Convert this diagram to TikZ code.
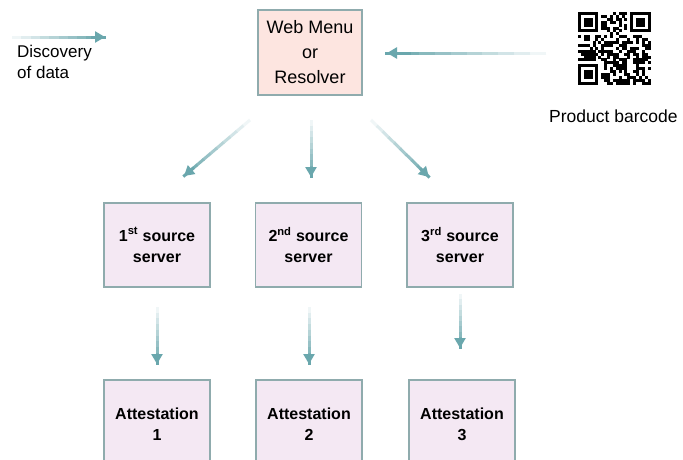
\documentclass[tikz,border=0pt]{standalone}
\usepackage{fontspec}
\setmainfont{Liberation Sans}
\usetikzlibrary{arrows.meta,calc}
\definecolor{arr}{HTML}{6AA7AD}
\definecolor{boxline}{HTML}{8FABAD}
\definecolor{pinkfill}{HTML}{FDE5E0}
\definecolor{lavfill}{HTML}{F4E8F3}
\newcommand{\fadearrow}[2]{%
  \foreach \i in {0,...,9}{%
    \pgfmathsetmacro{\fa}{\i/10}%
    \pgfmathsetmacro{\fb}{(\i+1)/10+0.01}%
    \pgfmathtruncatemacro{\fc}{10+\i*10}%
    \draw[line width=3pt, arr!\fc] ($(#1)!\fa!(#2)$) -- ($(#1)!\fb!(#2)$);
  }%
  \draw[arr, line width=3pt, -{Triangle[width=11pt,length=10pt]}] ($(#1)!0.85!(#2)$) -- (#2);
}
\begin{document}
\begin{tikzpicture}[x=1pt,y=-1pt,
  webbox/.style={draw=boxline, line width=1.2pt, fill=pinkfill, minimum width=104pt, minimum height=85pt, align=center, font=\fontsize{18}{25}\selectfont},
  srvbox/.style={draw=boxline, line width=1.2pt, fill=lavfill, minimum width=106pt, minimum height=84pt, align=center, font=\bfseries\fontsize{16}{21}\selectfont},
  attbox/.style={draw=boxline, line width=1.2pt, fill=lavfill, minimum width=106pt, minimum height=88pt, align=center, font=\bfseries\fontsize{16}{21}\selectfont},
  plain/.style={align=left, font=\fontsize{17}{21}\selectfont, inner sep=0pt}
]
\useasboundingbox (0,0) rectangle (683,459);
\fill[white] (0,0) rectangle (683,459);

% boxes
\node[webbox] (web) at (310,52.5) {Web Menu\\or\\Resolver};
\node[srvbox] (s1) at (157,245) {1\textsuperscript{st} source\\server};
\node[srvbox] (s2) at (308.5,245) {2\textsuperscript{nd} source\\server};
\node[srvbox] (s3) at (460,245) {3\textsuperscript{rd} source\\server};
\node[attbox] (a1) at (157,424) {Attestation\\1};
\node[attbox] (a2) at (309,424) {Attestation\\2};
\node[attbox] (a3) at (462,424) {Attestation\\3};

% texts
\node[plain, anchor=west] (disc) at (17,62) {Discovery\\of data};
\node[plain, anchor=west, font=\fontsize{17.5}{21}\selectfont] (bclabel) at (549,116) {Product barcode};

% QR code
\begin{scope}[shift={(578,12)}]
  \pgfmathsetseed{4242}
  \foreach \i in {0,...,24}{
    \foreach \j in {0,...,24}{
      \pgfmathrandominteger{\rr}{0}{99}
      \ifnum\rr<52 \fill[black] (\i*2.9,\j*2.9) rectangle ++(3.0,3.0); \fi
    }
  }
  \foreach \ox/\oy in {0/0, 18/0, 0/18}{
    \begin{scope}[shift={(\ox*2.9,\oy*2.9)}]
      \fill[white] (-0.1,-0.1) rectangle (7*2.9+0.1,7*2.9+0.1);
      \fill[white] (\ifnum\ox=0 0\else -2.9\fi, \ifnum\oy=0 0\else -2.9\fi) rectangle ++(8*2.9,8*2.9);
      \fill[black] (0,0) rectangle (7*2.9,7*2.9);
      \fill[white] (2.9,2.9) rectangle (6*2.9,6*2.9);
      \fill[black] (2*2.9,2*2.9) rectangle (5*2.9,5*2.9);
    \end{scope}
  }
\end{scope}
\node[inner sep=0pt, minimum size=0pt] (qr) at (614,48) {};

% arrow coordinates
\coordinate (dS) at (12,37);  \coordinate (dE) at (105,37);
\coordinate (bS) at (546,53); \coordinate (bE) at (387,53);
\coordinate (t1S) at (250,120); \coordinate (t1E) at (184,176);
\coordinate (t2S) at (311,120); \coordinate (t2E) at (311,177);
\coordinate (t3S) at (371,120); \coordinate (t3E) at (429,177);
\coordinate (v1S) at (157,307); \coordinate (v1E) at (157,364);
\coordinate (v2S) at (309,307); \coordinate (v2E) at (309,364);
\coordinate (v3S) at (460,294); \coordinate (v3E) at (460,348);

\fadearrow{dS}{dE}
\fadearrow{bS}{bE}
\fadearrow{t1S}{t1E}
\fadearrow{t2S}{t2E}
\fadearrow{t3S}{t3E}
\fadearrow{v1S}{v1E}
\fadearrow{v2S}{v2E}
\fadearrow{v3S}{v3E}
\end{tikzpicture}
\end{document}
